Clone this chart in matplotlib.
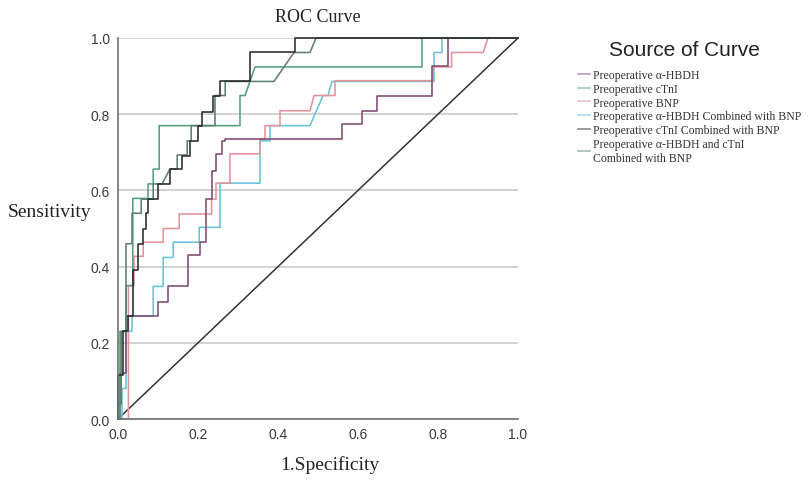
import matplotlib.pyplot as plt
from matplotlib.lines import Line2D

# ROC curve points (1-specificity, sensitivity)
hbdh_fpr = [0, 0.005, 0.005, 0.02, 0.02, 0.10, 0.10, 0.126, 0.126, 0.176, 0.176, 0.205, 0.205, 0.22, 0.22,
            0.235, 0.235, 0.245, 0.245, 0.26, 0.26, 0.2675, 0.2675, 0.559, 0.559, 0.609, 0.609, 0.647, 0.647,
            0.786, 0.786, 0.826, 0.826, 1.0]
hbdh_tpr = [0, 0, 0.12, 0.12, 0.27, 0.27, 0.308, 0.308, 0.348, 0.348, 0.43, 0.43, 0.464, 0.464, 0.577,
            0.577, 0.652, 0.652, 0.696, 0.696, 0.73, 0.73, 0.735, 0.735, 0.774, 0.774, 0.809, 0.809, 0.849,
            0.849, 0.927, 0.927, 1.0, 1.0]

ctni_fpr = [0, 0.005, 0.005, 0.02, 0.02, 0.037, 0.037, 0.075, 0.075, 0.088, 0.088, 0.103, 0.103, 0.305,
            0.305, 0.3175, 0.3425, 0.76, 0.76, 1.0]
ctni_tpr = [0, 0, 0.23, 0.23, 0.35, 0.35, 0.579, 0.579, 0.617, 0.617, 0.656, 0.656, 0.77, 0.77,
            0.849, 0.849, 0.924, 0.924, 1.0, 1.0]

bnp_fpr = [0, 0.026, 0.026, 0.04, 0.04, 0.063, 0.063, 0.113, 0.113, 0.153, 0.153, 0.234, 0.234, 0.245,
           0.245, 0.28, 0.28, 0.355, 0.355, 0.3675, 0.3675, 0.405, 0.405, 0.48, 0.49, 0.5425, 0.5425,
           0.788, 0.788, 0.834, 0.834, 0.913, 0.925, 1.0]
bnp_tpr = [0, 0, 0.35, 0.35, 0.427, 0.427, 0.464, 0.464, 0.5, 0.5, 0.538, 0.538, 0.577, 0.577,
           0.619, 0.619, 0.696, 0.696, 0.735, 0.735, 0.77, 0.77, 0.809, 0.809, 0.849, 0.849, 0.888,
           0.888, 0.924, 0.924, 0.962, 0.962, 1.0, 1.0]

hbdh_bnp_fpr = [0, 0.01, 0.01, 0.02, 0.02, 0.035, 0.035, 0.088, 0.088, 0.113, 0.113, 0.138, 0.138, 0.203,
                0.203, 0.255, 0.255, 0.355, 0.355, 0.38, 0.38, 0.48, 0.5125, 0.525, 0.535, 0.79, 0.79,
                0.81, 0.81, 1.0]
hbdh_bnp_tpr = [0, 0, 0.08, 0.08, 0.23, 0.23, 0.27, 0.27, 0.348, 0.348, 0.424, 0.424, 0.464, 0.464,
                0.503, 0.503, 0.619, 0.619, 0.73, 0.73, 0.77, 0.77, 0.849, 0.849, 0.886, 0.886, 0.962,
                0.962, 1.0, 1.0]

ctni_bnp_fpr = [0, 0, 0.012, 0.012, 0.025, 0.025, 0.038, 0.038, 0.05, 0.05, 0.062, 0.062, 0.07, 0.07,
                0.076, 0.076, 0.10, 0.10, 0.13, 0.13, 0.16, 0.16, 0.18, 0.18, 0.20, 0.20, 0.21, 0.21,
                0.238, 0.238, 0.255, 0.255, 0.33, 0.33, 0.4425, 0.4425, 1.0]
ctni_bnp_tpr = [0, 0.115, 0.115, 0.23, 0.23, 0.27, 0.27, 0.39, 0.39, 0.46, 0.46, 0.50, 0.50, 0.54,
                0.54, 0.577, 0.577, 0.617, 0.617, 0.656, 0.656, 0.69, 0.69, 0.73, 0.73, 0.77, 0.77, 0.805,
                0.805, 0.849, 0.849, 0.886, 0.886, 0.962, 0.962, 1.0, 1.0]

all3_fpr = [0, 0, 0.008, 0.008, 0.02, 0.02, 0.035, 0.035, 0.058, 0.058, 0.088, 0.088, 0.11, 0.13, 0.148,
            0.148, 0.173, 0.173, 0.183, 0.183, 0.2425, 0.2425, 0.268, 0.268, 0.39, 0.44, 0.48, 0.495, 1.0]
all3_tpr = [0, 0.04, 0.04, 0.23, 0.23, 0.46, 0.46, 0.54, 0.54, 0.577, 0.577, 0.617, 0.617, 0.656, 0.656,
            0.693, 0.693, 0.73, 0.73, 0.77, 0.77, 0.849, 0.849, 0.886, 0.886, 0.962, 0.962, 1.0, 1.0]

labels = ['Preoperative α-HBDH', 'Preoperative cTnI', 'Preoperative BNP',
          'Preoperative α-HBDH Combined with BNP', 'Preoperative cTnI Combined with BNP',
          'Preoperative α-HBDH and cTnI\nCombined with BNP']
colors = ['#7e4a73', '#55a07a', '#e3939a', '#68c3da', '#2a2a2a', '#5f7f70']
curves = [(hbdh_fpr, hbdh_tpr), (ctni_fpr, ctni_tpr), (bnp_fpr, bnp_tpr),
          (hbdh_bnp_fpr, hbdh_bnp_tpr), (ctni_bnp_fpr, ctni_bnp_tpr), (all3_fpr, all3_tpr)]

fig = plt.figure(figsize=(8.1, 4.81), dpi=100)
ax = fig.add_axes([118 / 810, 1 - 420 / 481, 400 / 810, 381 / 481])

ax.set_xlim(0, 1)
ax.set_ylim(0, 1)
ax.set_xticks([0, 0.2, 0.4, 0.6, 0.8, 1.0])
ax.set_yticks([0, 0.2, 0.4, 0.6, 0.8, 1.0])
ax.set_xticklabels(['0.0', '0.2', '0.4', '0.6', '0.8', '1.0'])
ax.set_yticklabels(['0.0', '0.2', '0.4', '0.6', '0.8', '1.0'])
ax.tick_params(length=0, labelsize=10, colors='#3a3a3a', pad=6)
for lab in ax.get_xticklabels() + ax.get_yticklabels():
    lab.set_family('Liberation Sans')
ax.yaxis.grid(True, color='#cfcfcf', lw=1.3)
ax.set_axisbelow(True)
for s in ['top', 'right']:
    ax.spines[s].set_visible(False)
for s in ['left', 'bottom']:
    ax.spines[s].set_color('#707070')
    ax.spines[s].set_linewidth(1.2)

# reference line
ax.plot([0, 1], [0, 1], color='#333333', lw=1.1)

order = [3, 2, 0, 1, 5, 4]
for i in order:
    fx, ty = curves[i]
    ax.plot(fx, ty, color=colors[i], lw=1.15, clip_on=False)

fig.text(318 / 810, 1 - 17 / 481, 'ROC Curve', family='Liberation Serif', fontsize=13,
         ha='center', va='center', color='#222222')
fig.text(8 / 810, 1 - 213 / 481, 'Sensitivity', family='Liberation Serif', fontsize=14,
         ha='left', va='center', color='#222222')
fig.text(330 / 810, 1 - 465 / 481, '1.Specificity', family='Liberation Serif', fontsize=14,
         ha='center', va='center', color='#222222')
fig.text(684 / 810, 1 - 50 / 481, 'Source of Curve', family='Liberation Sans', fontsize=15,
         ha='center', va='center', color='#222222')

handles = [Line2D([], [], color=c, lw=1.2, alpha=0.55) for c in colors]
leg = fig.legend(handles, labels, loc='upper left', bbox_to_anchor=(578 / 810, 1 - 70 / 481),
                 frameon=False, handlelength=1.0, handletextpad=0.3, labelspacing=0.15,
                 borderaxespad=0, borderpad=0, prop={'family': 'Liberation Serif', 'size': 8.5})
for t in leg.get_texts():
    t.set_color('#333333')

plt.savefig('out.png', dpi=100)
plt.close(fig)
